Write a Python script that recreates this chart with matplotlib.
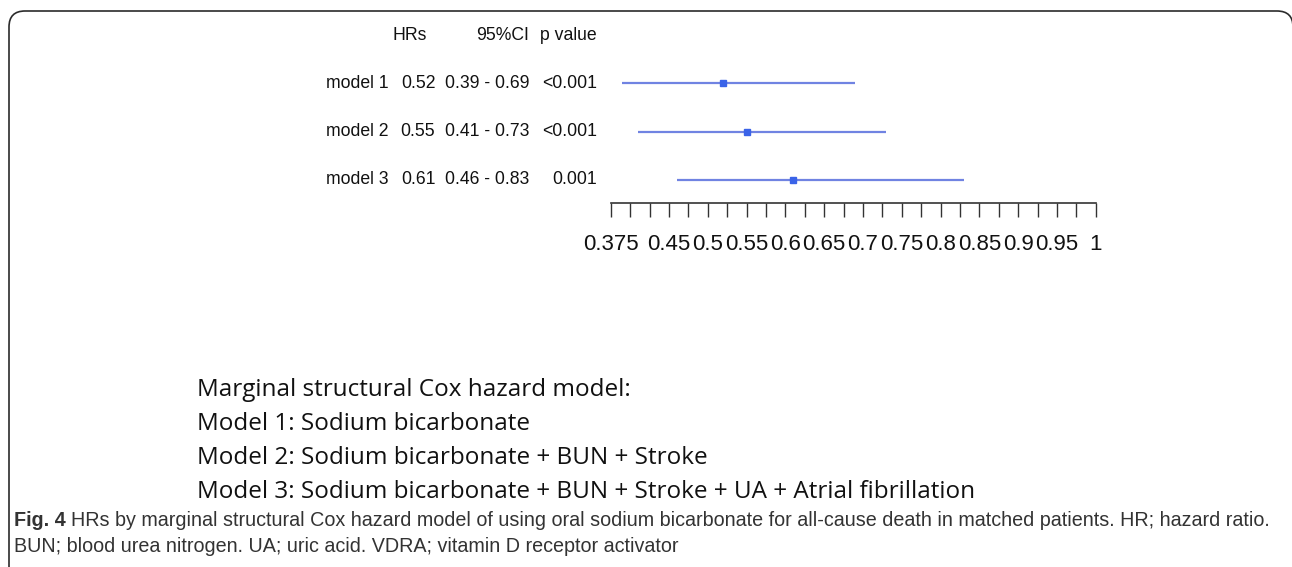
import matplotlib
matplotlib.use("Agg")
import matplotlib.pyplot as plt
import matplotlib.transforms as mtransforms
import numpy as np
from matplotlib.patches import FancyBboxPatch

# forest plot data
models = ["model 1", "model 2", "model 3"]
hr = [0.52, 0.55, 0.61]
ci_lo = [0.39, 0.41, 0.46]
ci_hi = [0.69, 0.73, 0.83]
hr_txt = ["0.52", "0.55", "0.61"]
ci_txt = ["0.39 - 0.69", "0.41 - 0.73", "0.46 - 0.83"]
p_txt = ["<0.001", "<0.001", "0.001"]
tick_vals = np.arange(0.375, 1.0001, 0.025)
label_vals = [0.375, 0.45, 0.5, 0.55, 0.6, 0.65, 0.7, 0.75, 0.8, 0.85, 0.9, 0.95, 1.0]
label_txt = ["0.375", "0.45", "0.5", "0.55", "0.6", "0.65", "0.7", "0.75", "0.8",
             "0.85", "0.9", "0.95", "1"]

legend_lines = ["Marginal structural Cox hazard model:",
                "Model 1: Sodium bicarbonate",
                "Model 2: Sodium bicarbonate + BUN + Stroke",
                "Model 3: Sodium bicarbonate + BUN + Stroke + UA + Atrial fibrillation"]
caption_1 = ("HRs by marginal structural Cox hazard model of using oral sodium bicarbonate "
             "for all-cause death in matched patients. HR; hazard ratio.")
caption_2 = "BUN; blood urea nitrogen. UA; uric acid. VDRA; vitamin D receptor activator"

W, H = 1292, 567
fig = plt.figure(figsize=(W / 100, H / 100), dpi=100)
fig.patch.set_facecolor("white")

def fx(px): return px / W
def fy(py): return 1 - py / H

# rounded frame, runs off the bottom and right edges
frame = FancyBboxPatch((0.09, -0.6), 12.84, 6.16, boxstyle="round,pad=0,rounding_size=0.16",
                       transform=fig.dpi_scale_trans, fill=False, ec="#2b2b2b", lw=1.2)
fig.patches.append(frame)

# forest axes
ax = fig.add_axes([fx(610.7), fy(203), fx(1095.7) - fx(610.7), (203 - 59) / H])
rows = np.arange(1, len(models) + 1)
ax.hlines(rows, ci_lo, ci_hi, color="#7083e2", lw=1.6)
ax.plot(hr, rows, "s", color="#3a63e8", ms=4, mec="#3a63e8")
ax.set_xlim(0.375, 1.0)
ax.set_ylim(3.474, 0.505)
for s in ["top", "right", "left"]:
    ax.spines[s].set_visible(False)
ax.spines["bottom"].set_color("#333333")
ax.spines["bottom"].set_linewidth(1.2)
ax.set_yticks([])
ax.set_xticks(tick_vals)
ax.set_xticklabels([""] * len(tick_vals))
ax.tick_params(axis="x", direction="out", length=10, width=1.0, color="#333333")
lab_tr = mtransforms.blended_transform_factory(ax.transData, fig.transFigure)
for v, t in zip(label_vals, label_txt):
    ax.text(v, fy(245), t, transform=lab_tr, ha="center", va="center",
            fontsize=16, family="Liberation Sans", color="#111111")

# table text
tf = dict(fontsize=12.7, family="Liberation Sans", color="#111111", va="center")
fig.text(fx(410), fy(35), "HRs", ha="center", **tf)
fig.text(fx(529), fy(35), "95%CI", ha="right", **tf)
fig.text(fx(540), fy(35), "p value", ha="left", **tf)
row_px = [83, 131, 180]
for m, h, c, p, yp in zip(models, hr_txt, ci_txt, p_txt, row_px):
    fig.text(fx(389), fy(yp), m, ha="right", **tf)
    fig.text(fx(418), fy(yp), h, ha="center", **tf)
    fig.text(fx(487.5), fy(yp), c, ha="center", **tf)
    fig.text(fx(597), fy(yp), p, ha="right", **tf)

# legend text block
for i, line in enumerate(legend_lines):
    fig.text(fx(197), fy(390 + 34 * i), line, ha="left", va="center",
             fontsize=17.5, family="Open Sans", color="#111111")

# caption
cf = dict(fontsize=14.2, family="Liberation Sans", color="#333333", va="center")
fig_lab = fig.text(fx(14), fy(521), "Fig. 4", ha="left", weight="bold", **cf)
fig.canvas.draw()
bb = fig_lab.get_window_extent()
fig.text(bb.x1 / W + fx(5), fy(521), caption_1, ha="left", **cf)
fig.text(fx(14), fy(547), caption_2, ha="left", **cf)

fig.savefig("out.png", dpi=100)
